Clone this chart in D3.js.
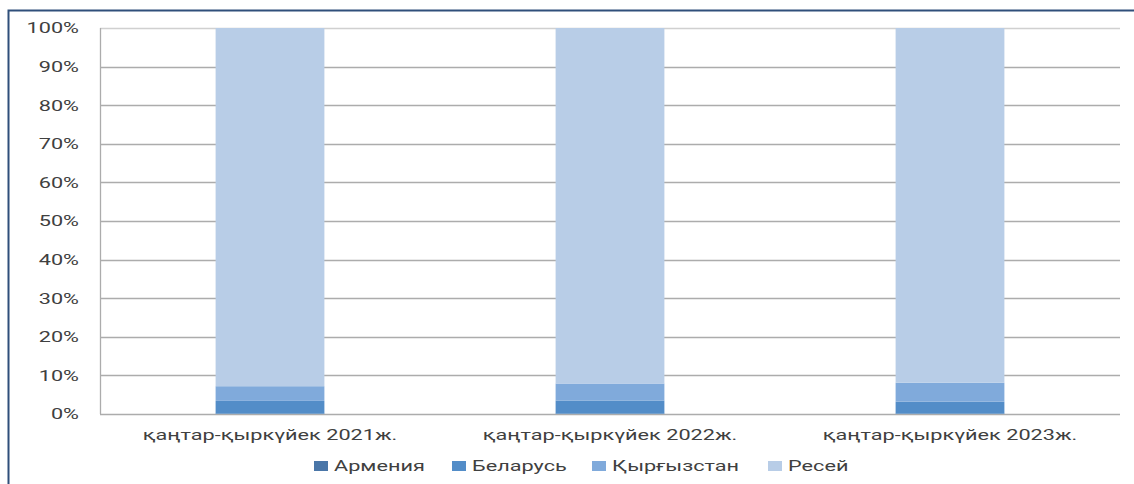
<!DOCTYPE html>
<html>
<head>
<meta charset="utf-8">
<script src="https://cdn.jsdelivr.net/npm/d3@7"></script>
<style>
  body { margin: 0; background: #fff; }
  svg { display: block; font-family: Roboto, "Noto Sans", sans-serif; }
</style>
</head>
<body>
<div id="chart"></div>
<script>
// periods on the x axis
var periods = ["қаңтар-қыркүйек 2021ж.", "қаңтар-қыркүйек 2022ж.", "қаңтар-қыркүйек 2023ж."];
// shares per country, in percent
var armenia    = [0.1, 0.1, 0.1];
var belarus    = [3.3, 3.4, 3.1];
var kyrgyzstan = [3.8, 4.4, 4.9];
var russia     = [92.8, 92.1, 91.9];
var seriesNames = ["Армения", "Беларусь", "Қырғызстан", "Ресей"];
var yTicks = [0, 10, 20, 30, 40, 50, 60, 70, 80, 90, 100];

var colors = ["#4a76a8", "#538dc8", "#80aadb", "#b8cde7"];

var W = 1134, H = 484,
    margin = {top: 28, right: 14, bottom: 70, left: 100},
    width = 1120 - margin.left,
    height = 414 - margin.top,
    stretch = 1.4;   // the picture's text is wider than normal

var svg = d3.select("#chart").append("svg")
    .attr("width", W)
    .attr("height", H);

// frame (only top and left edges are visible in the picture)
svg.append("path")
    .attr("d", "M8.5," + H + "V10.5H" + W)
    .attr("fill", "none")
    .attr("stroke", "#2f4f7a")
    .attr("stroke-width", 2);

var g = svg.append("g")
    .attr("transform", "translate(" + margin.left + "," + margin.top + ")");

var x = d3.scaleBand().domain(periods).range([0, width]).paddingInner(0.68).paddingOuter(0.34);
var y = d3.scaleLinear().domain([0, 100]).range([height, 0]);

// table for the stack
var table = periods.map(function(p, i) {
    return {period: p, "Армения": armenia[i], "Беларусь": belarus[i], "Қырғызстан": kyrgyzstan[i], "Ресей": russia[i]};
});
var stacked = d3.stack().keys(seriesNames)(table);

// gridlines
g.selectAll(".grid")
    .data(yTicks)
    .enter().append("line")
    .attr("x1", 0).attr("x2", width)
    .attr("y1", function(d) { return Math.round(y(d)) + 0.5; })
    .attr("y2", function(d) { return Math.round(y(d)) + 0.5; })
    .attr("stroke", function(d) { return d === 100 ? "#d0d0d0" : "#acacac"; })
    .attr("stroke-width", 1.3);

// y axis line
g.append("line")
    .attr("x1", 0.5).attr("x2", 0.5)
    .attr("y1", y(100)).attr("y2", y(0))
    .attr("stroke", "#acacac")
    .attr("stroke-width", 1.3);

// bars
g.selectAll(".layer")
    .data(stacked)
    .enter().append("g")
    .attr("fill", function(d, i) { return colors[i]; })
    .selectAll("rect")
    .data(function(d) { return d; })
    .enter().append("rect")
    .attr("x", function(d) { return x(d.data.period); })
    .attr("width", x.bandwidth())
    .attr("y", function(d) { return y(d[1]); })
    .attr("height", function(d) { return y(d[0]) - y(d[1]); });

// y tick labels
g.selectAll(".ylab")
    .data(yTicks)
    .enter().append("text")
    .attr("transform", function(d) { return "translate(-21," + y(d) + ") scale(" + stretch + ",1)"; })
    .attr("dy", "0.35em")
    .attr("text-anchor", "end")
    .attr("font-size", 15.5)
    .attr("fill", "#404040")
    .text(function(d) { return d + "%"; });

// x labels
g.selectAll(".xlab")
    .data(periods)
    .enter().append("text")
    .attr("transform", function(d) { return "translate(" + (x(d) + x.bandwidth() / 2) + "," + (height + 26) + ") scale(" + stretch + ",1)"; })
    .attr("text-anchor", "middle")
    .attr("font-size", 15.5)
    .attr("fill", "#404040")
    .text(function(d) { return d; });

// legend
var legendX = [314, 452, 592, 768];
var legend = svg.selectAll(".legend")
    .data(seriesNames)
    .enter().append("g")
    .attr("transform", function(d, i) { return "translate(" + legendX[i] + ",466)"; });

legend.append("rect")
    .attr("x", 0).attr("y", -5)
    .attr("width", 14).attr("height", 10)
    .attr("fill", function(d, i) { return colors[i]; });

legend.append("text")
    .attr("transform", "translate(20,0) scale(" + stretch + ",1)")
    .attr("dy", "0.35em")
    .attr("font-size", 15.5)
    .attr("fill", "#404040")
    .text(function(d) { return d; });
</script>
</body>
</html>
